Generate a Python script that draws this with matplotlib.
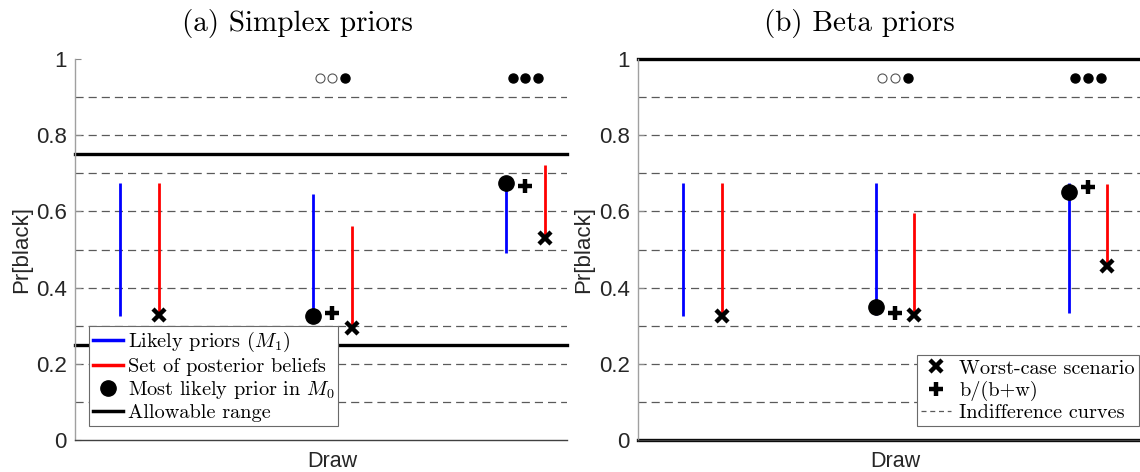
import numpy as np
import matplotlib
matplotlib.use("Agg")
import matplotlib.pyplot as plt
from matplotlib.lines import Line2D

plt.rcParams['mathtext.fontset'] = 'cm'
plt.rcParams['font.serif'] = ['cmr10']
plt.rcParams['axes.unicode_minus'] = False

# ---------------- data ----------------
groups = [1, 2, 3]
titles = ["(a) Simplex priors", "(b) Beta priors"]
yticks = [0, 0.2, 0.4, 0.6, 0.8, 1.0]
ytick_labels = ["0", "0.2", "0.4", "0.6", "0.8", "1"]
indiff_levels = [0.1, 0.2, 0.3, 0.4, 0.5, 0.6, 0.7, 0.8, 0.9]

# (a) simplex priors
simplex_prior_lo = [0.326, 0.33, 0.49]
simplex_prior_hi = [0.675, 0.646, 0.675]
simplex_post_lo = [0.33, 0.293, 0.529]
simplex_post_hi = [0.675, 0.561, 0.722]
simplex_worst = [0.327, 0.293, 0.529]
simplex_ratio = [np.nan, 0.334, 0.667]
simplex_mode = [np.nan, 0.325, 0.675]
simplex_allow = [0.25, 0.75]

# (b) beta priors
beta_prior_lo = [0.326, 0.328, 0.333]
beta_prior_hi = [0.675, 0.675, 0.675]
beta_post_lo = [0.326, 0.328, 0.457]
beta_post_hi = [0.675, 0.595, 0.671]
beta_worst = [0.326, 0.328, 0.457]
beta_ratio = [np.nan, 0.333, 0.665]
beta_mode = [np.nan, 0.35, 0.652]
beta_allow = [0.0, 1.0]

# drawn balls shown above groups (1 = black, 0 = white)
draws_group = [2, 3]
draws_balls = [[0, 0, 1], [1, 1, 1]]
draws_y = 0.95

# ---------------- figure ----------------
W, H = 1140, 472
fig = plt.figure(figsize=(W / 100, H / 100), dpi=100)

def px_axes(x0, x1, y0, y1):
    return fig.add_axes([x0 / W, 1 - y1 / H, (x1 - x0) / W, (y1 - y0) / H])

axL = px_axes(75, 567, 59, 440)
axR = px_axes(638, 1140, 59, 440)

off = 0.1
ball_dx = 0.066
grey_dash = '#5a5a5a'
sans = 'Liberation Sans'
tick_fs = 16
lab_fs = 16
leg_fs = 14.6

datasets = [
    (axL, simplex_prior_lo, simplex_prior_hi, simplex_post_lo, simplex_post_hi,
     simplex_worst, simplex_ratio, simplex_mode, simplex_allow, (2 / 3, 3.215)),
    (axR, beta_prior_lo, beta_prior_hi, beta_post_lo, beta_post_hi,
     beta_worst, beta_ratio, beta_mode, beta_allow, (2 / 3, 3.27)),
]

for (ax, plo, phi, qlo, qhi, worst, ratio, mode, allow, xl) in datasets:
    ax.set_xlim(*xl)
    ax.set_ylim(0, 1)
    for lv in indiff_levels:
        ax.axhline(lv, color=grey_dash, lw=0.9, ls=(0, (6.5, 4)), zorder=1)
    for a in allow:
        ax.axhline(a, color='black', lw=2.4, zorder=2, clip_on=False)
    g = np.array(groups, dtype=float)
    ax.vlines(g - off, plo, phi, color='#0000ff', lw=2.0, zorder=3)
    ax.vlines(g + off, qlo, qhi, color='#ff0000', lw=2.0, zorder=3)
    ax.plot(g + off, worst, ls='none', marker='x', ms=9, mew=3.2,
            color='black', zorder=5)
    ax.plot(g, ratio, ls='none', marker='+', ms=10, mew=3.2,
            color='black', zorder=5)
    ax.plot(g - off, mode, ls='none', marker='o', ms=11,
            color='black', zorder=5)
    for gi, balls in zip(draws_group, draws_balls):
        for k, b in enumerate(balls):
            xb = gi + (k - 1) * ball_dx
            if b:
                ax.plot(xb, draws_y, marker='o', ms=6.5, color='black',
                        ls='none', zorder=5)
            else:
                ax.plot(xb, draws_y, marker='o', ms=6.5, mfc='white',
                        mec='#555555', mew=0.8, ls='none', zorder=5)
    ax.set_yticks(yticks)
    ax.set_yticklabels(ytick_labels, fontfamily=sans, fontsize=tick_fs,
                       color='#262626')
    ax.set_xticks([])
    ax.tick_params(axis='y', direction='in', length=4, width=0.8,
                   color='#8a8a8a', pad=6)
    for s in ['top', 'right']:
        ax.spines[s].set_visible(False)
    ax.spines['left'].set_color('#a0a0a0')
    ax.spines['left'].set_linewidth(1.0)
    ax.spines['bottom'].set_color('#404040')
    ax.spines['bottom'].set_linewidth(1.0)
    ax.set_ylabel("Pr[black]", fontfamily=sans, fontsize=lab_fs,
                  color='#262626', labelpad=3)
    ax.set_xlabel("Draw", fontfamily=sans, fontsize=15.5,
                  color='#262626')
    ax.xaxis.set_label_coords((2 - xl[0]) / (xl[1] - xl[0]), -0.03)
    ax.xaxis.label.set_verticalalignment('top')

# titles
fig.text(297 / W, 1 - 24 / H, titles[0], ha='center', va='center',
         fontfamily='serif', fontsize=21)
fig.text(859 / W, 1 - 24 / H, titles[1], ha='center', va='center',
         fontfamily='serif', fontsize=21)

# legends
legL_handles = [
    Line2D([], [], color='#0000ff', lw=2.5),
    Line2D([], [], color='#ff0000', lw=2.5),
    Line2D([], [], color='black', marker='o', ms=11, ls='none'),
    Line2D([], [], color='black', lw=2.5),
]
legL_labels = ["Likely priors ($M_1$)", "Set of posterior beliefs",
               "Most likely prior in $M_0$", "Allowable range"]
legL = axL.legend(legL_handles, legL_labels, loc='lower left',
                  bbox_to_anchor=((89 - 75) / 492, (440 - 426) / 381),
                  prop={'family': 'serif', 'size': leg_fs}, frameon=True,
                  fancybox=False, edgecolor='#6a6a6a', framealpha=1,
                  handlelength=1.5, handletextpad=0.2, labelspacing=0.15,
                  borderpad=0.2, borderaxespad=0)
legL.get_frame().set_linewidth(0.8)
legL.set_zorder(10)

legR_handles = [
    Line2D([], [], color='black', marker='x', ms=9, mew=3.2, ls='none'),
    Line2D([], [], color='black', marker='+', ms=10, mew=3.2, ls='none'),
    Line2D([], [], color=grey_dash, lw=0.9, ls=(0, (4, 3))),
]
legR_labels = ["Worst-case scenario", "b/(b+w)", "Indifference curves"]
legR = axR.legend(legR_handles, legR_labels, loc='lower right',
                  bbox_to_anchor=((1139 - 638) / 502, (440 - 426) / 381),
                  prop={'family': 'serif', 'size': leg_fs}, frameon=True,
                  fancybox=False, edgecolor='#6a6a6a', framealpha=1,
                  handlelength=1.5, handletextpad=0.4, labelspacing=0.15,
                  borderpad=0.2, borderaxespad=0)
legR.get_frame().set_linewidth(0.8)
legR.set_zorder(10)

fig.savefig("out.png", dpi=100)
